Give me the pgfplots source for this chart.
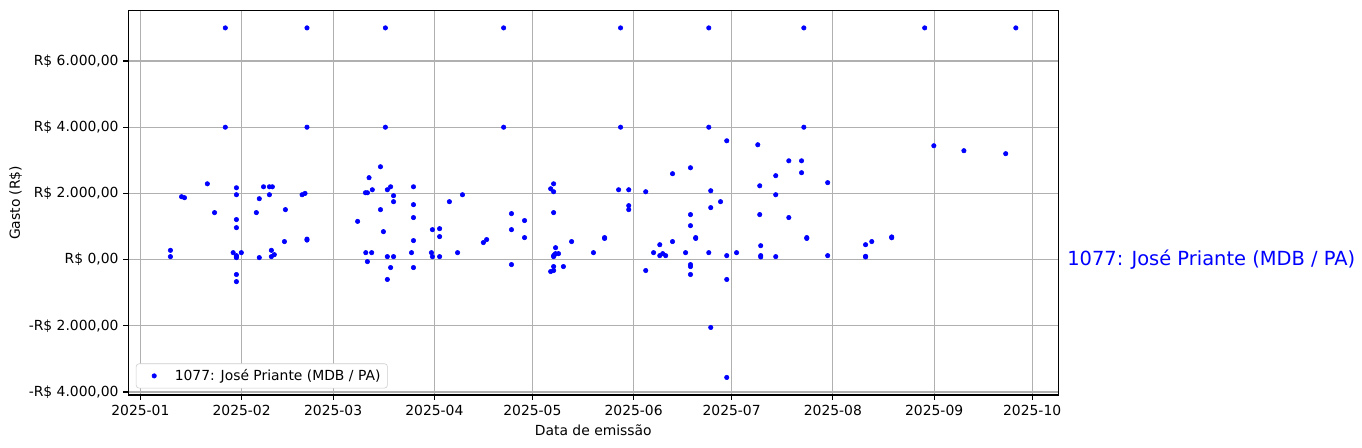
\documentclass[border=0pt]{standalone}
\usepackage{pgfplots}
\pgfplotsset{compat=1.18}
\usepackage{fontspec}
\setmainfont{DejaVu Sans}

\begin{document}
\begin{tikzpicture}
\begin{axis}[
  name=main,
  at={(0,0)}, anchor=south west,
  scale only axis,
  width=669.6pt, height=276.7pt,
  xmin=-3.7, xmax=281,
  ymin=-4090, ymax=7520,
  xtick={0,31,59,90,120,151,181,212,243,273},
  xticklabels={2025-01,2025-02,2025-03,2025-04,2025-05,2025-06,2025-07,2025-08,2025-09,2025-10},
  ytick={-4000,-2000,0,2000,4000,6000},
  yticklabels={{-R\$ 4.000,00},{-R\$ 2.000,00},{R\$ 0,00},{R\$ 2.000,00},{R\$ 4.000,00},{R\$ 6.000,00}},
  /pgf/number format/assume math mode=true,
  grid=major,
  grid style={color=black!31, line width=0.8pt},
  axis line style={line width=0.8pt},
  tick style={black, line width=0.8pt},
  tick align=outside, tick pos=left,
  major tick length=3.5pt,
  ticklabel style={font=\fontsize{10}{12}\selectfont},
  label style={font=\fontsize{10}{12}\selectfont},
  xlabel={Data de emissão},
  ylabel={Gasto (R\$)},
  ylabel style={yshift=-2pt},
  clip=false,
  legend cell align=left,
  legend image code/.code={
    \path[draw=none, fill=none] (0,0) -- (0.8cm,0);
    \draw[#1, only marks] plot coordinates {(0.35cm,0cm)};
  },
  legend style={at={(0,0)}, anchor=south west, xshift=5.5pt, yshift=4.8pt,
    draw=black!20, rounded corners=2pt, inner ysep=2pt,
    font=\fontsize{10}{12}\selectfont},
]
\addplot[only marks, mark=*, mark size=1.6pt, color=blue, mark options={draw=blue, fill=blue}] coordinates {
  (26,7000) (51,7000) (26,4000) (51,4000)
  (20.5,2290) (12.6,1900) (13.5,1870) (22.7,1420)
  (29.4,2170) (29.4,1960) (29.4,1210) (29.4,965)
  (9.2,280) (9.2,90) (28.4,210) (29.4,90) (29.4,60) (29.4,120)
  (30.9,210) (29.4,-450) (29.4,-665)
  (36.4,1840) (35.5,1420) (36.4,60)
  (37.7,2200) (39.5,2200) (40.4,2200) (39.5,1960)
  (40.1,280) (40.1,90) (41,150)
  (44.4,1510) (44.1,545) (49.5,1960) (50.4,2000)
  (51,590) (51,620) (66.5,1155) (69,210)
  (75,7000) (111.2,7000) (75,4000) (111.2,4000)
  (73.5,2805) (70,2475) (68.9,2020) (69.5,2020) (71,2110)
  (75.6,2110) (76.6,2200) (77.5,1930) (77.5,1750) (73.5,1510)
  (74.4,845) (70.8,210) (69.5,-60) (75.6,90) (77.5,90)
  (76.6,-240) (75.6,-600)
  (83.6,2200) (83.6,1660) (83.6,1270) (83.6,575) (83,210) (83.6,-240)
  (89.1,210) (89.4,905) (89.4,90) (91.6,935) (91.6,695) (91.6,90)
  (94.6,1750) (97.1,210) (98.6,1960) (105,515) (106,605)
  (113.6,1390) (113.6,905) (113.6,-150) (117.6,1180) (117.6,665)
  (125.6,2140) (126.5,2290) (126.5,2050) (126.5,1420) (127.1,360)
  (126.5,90) (126.8,150) (127.1,180) (128,180) (126.5,120)
  (126.5,-210) (125.6,-360) (126.5,-330) (129.5,-210)
  (132,545) (138.7,210)
  (147,7000) (174,7000) (203.1,7000) (147,4000) (174,4000) (203.1,4000)
  (142.1,665) (142.1,640) (146.4,2110) (149.5,2110) (149.5,1630) (149.5,1510)
  (154.7,2050) (154.7,-330) (157.1,210) (159,450) (159,120) (159.9,180) (160.8,120)
  (162.9,2595) (162.9,545) (166.9,210)
  (168.4,2775) (168.4,1360) (168.4,1025) (170,665) (170,640)
  (168.4,-150) (168.4,-210) (168.4,-450)
  (174,210) (174.6,2080) (174.6,1570) (174.6,-2050) (177.6,1750)
  (179.5,3590) (179.5,120) (179.5,-600) (179.5,-3560) (182.5,210)
  (189,3470) (189.6,2230) (189.6,1360) (189.9,420) (189.9,120) (189.9,80)
  (194.5,2535) (194.5,1960) (194.5,90)
  (198.5,2985) (198.5,1270) (202.4,2985) (202.4,2625) (204,665) (204,640)
  (240.1,7000) (268,7000)
  (210.4,2325) (210.4,120) (222,450) (222,100) (222,80) (223.9,545)
  (230,685) (230,660) (242.9,3440) (252.1,3290) (264.9,3200)
};
\addlegendentry{1077: José Priante (MDB / PA)}
\node[anchor=west, inner sep=0pt, xshift=6.3pt, text=blue,
  font=\fontsize{14}{17}\selectfont] at (axis cs:281,0) {1077: José Priante (MDB / PA)};
\end{axis}
% canvas of the original figure
\path (-92.38pt,-38.16pt) rectangle ++(980.64pt,322.56pt);
\end{tikzpicture}
\end{document}
